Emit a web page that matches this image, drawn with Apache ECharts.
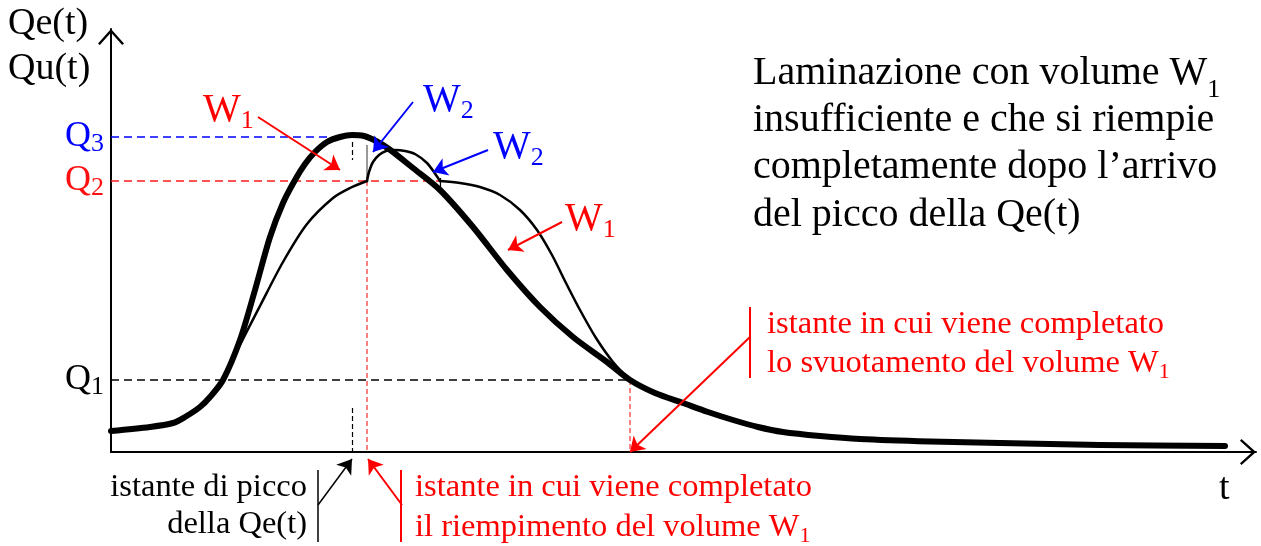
<!DOCTYPE html>
<html>
<head>
<meta charset="utf-8">
<script src="https://cdn.jsdelivr.net/npm/echarts@6/dist/echarts.min.js"></script>
<style>
  html, body { margin: 0; padding: 0; background: #fff; }
  #main { width: 1261px; height: 546px; }
</style>
</head>
<body>
<div id="main"></div>
<script>
// Qe(t): idrogramma entrante (curva spessa), punti [t, Q]
var qeData = [
  [0, 2.1], [3.9, 2.5], [6.2, 2.9], [7.4, 3.5], [8.9, 4.5], [9.9, 5.5],
  [11.2, 7.2], [12.9, 11.2], [14.4, 16.2], [15.9, 21.5], [17.2, 24.9],
  [18.4, 27.2], [19.4, 28.8], [20.4, 30.0], [21.6, 31.0], [22.9, 31.5],
  [24.1, 31.7], [25.3, 31.6], [26.5, 31.1], [27.8, 30.3], [30.2, 28.4],
  [32.9, 26.2], [36.2, 22.5], [39.6, 18.2], [42.9, 14.5], [46.2, 11.5],
  [49.6, 9.0], [51.9, 7.2], [54.4, 5.9], [57.2, 4.9], [59.7, 4.0],
  [62.2, 3.2], [64.7, 2.5], [67.2, 2.0], [70.9, 1.6], [74.9, 1.3],
  [81.9, 1.05], [88.9, 0.9], [98.9, 0.7], [111.4, 0.6]
];
// Qu(t): idrogramma uscente (curva sottile), in tre tratti
var quRise = [
  [11.2, 7.2], [12.9, 10.7], [14.9, 14.6], [17.2, 19.0], [19.6, 22.8],
  [22.2, 25.4], [23.9, 26.4], [25.6, 27.1]
];
var quBump = [
  [25.6, 27.1], [25.8, 28.0], [26.2, 29.0], [26.8, 29.7], [27.5, 30.1],
  [28.4, 30.2], [29.4, 30.1], [30.4, 29.8], [31.6, 28.9], [32.5, 27.7],
  [32.9, 27.1]
];
var quFall = [
  [32.9, 27.1], [34.9, 26.9], [36.9, 26.5], [38.9, 25.7], [40.9, 24.2],
  [42.6, 22.2], [44.1, 19.7], [45.5, 16.9], [46.9, 14.2], [48.5, 11.4],
  [50.2, 9.0], [51.9, 7.2]
];

// livelli di portata
var levelNames = ['1', '2', '3'];
var levelValues = [7.2, 27.1, 31.5];
var levelEnds = [51.9, 32.9, 23.4];
var levelColors = ['#000000', '#ff1010', '#0000ff'];

// istanti notevoli
var tPeak = 24.1;
var tFull = 25.6;
var tEmpty = 51.9;

// frecce [da, a]
var arrowsRed = [
  [[14.7, 33.5], [22.9, 28.2]],
  [[45.1, 23.0], [39.7, 20.2]],
  [[63.9, 11.5], [51.9, 0]],
  [[29.1, -5.3], [25.7, -0.7]]
];
var arrowsBlue = [
  [[30.2, 35.0], [26.2, 30.0]],
  [[37.7, 30.2], [32.2, 28.0]]
];
var arrowsBlack = [
  [[20.7, -5.3], [24.1, -0.7]]
];
var bracketsRed = [
  [[63.9, 14.5], [63.9, 7.4]],
  [[29.0, -1.8], [29.0, -9.0]]
];
var bracketsBlack = [
  [[20.7, -1.8], [20.7, -9.0]]
];

var FONT = "'Liberation Serif', 'Times New Roman', serif";

function lineSeries(list, color, width, type, arrow, z) {
  return {
    type: 'lines',
    coordinateSystem: 'cartesian2d',
    clip: false,
    silent: true,
    z: z || 3,
    symbol: arrow ? ['none', 'arrow'] : ['none', 'none'],
    symbolSize: 14,
    lineStyle: { color: color, width: width, type: type, opacity: 1 },
    data: list.map(function (c) { return { coords: c }; })
  };
}

function curve(data, width, z) {
  return {
    type: 'line', data: data, showSymbol: false, smooth: 0.3, silent: true, z: z,
    lineStyle: { color: '#000', width: width, cap: 'round', join: 'round' }
  };
}

var levelLines = levelValues.map(function (v, i) {
  return [[0, v], [levelEnds[i], v]];
});

var chevron = 'path://M13,0 L26,14.5 L24.2,16 L13,3.6 L1.8,16 L0,14.5 Z';

var myChart = echarts.init(document.getElementById('main'));

function wLabel(x, y, sub, color) {
  return {
    type: 'text', x: x, y: y, silent: true,
    style: {
      text: '{w|W}{s|' + sub + '}', fill: color, align: 'left', verticalAlign: 'middle',
      rich: {
        w: { fontFamily: FONT, fontSize: 40, lineHeight: 48, fill: color },
        s: { fontFamily: FONT, fontSize: 26, lineHeight: 26, verticalAlign: 'bottom', fill: color }
      }
    }
  };
}
function plain(x, y, text, size, color, align) {
  return {
    type: 'text', x: x, y: y, silent: true,
    style: { text: text, fontFamily: FONT, fontSize: size, fill: color, align: align || 'left', verticalAlign: 'middle' }
  };
}
function withSub(x, y, text, sub, size, subSize, lh, subLh, color) {
  return {
    type: 'text', x: x, y: y, silent: true,
    style: {
      text: '{a|' + text + '}{b|' + sub + '}', fill: color, align: 'left', verticalAlign: 'middle',
      rich: {
        a: { fontFamily: FONT, fontSize: size, lineHeight: lh, fill: color },
        b: { fontFamily: FONT, fontSize: subSize, lineHeight: subLh, verticalAlign: 'bottom', fill: color }
      }
    }
  };
}

var option = {
  animation: false,
  backgroundColor: '#ffffff',
  grid: { left: 111, right: 5, top: 29, bottom: 94 },
  xAxis: {
    type: 'value', min: 0, max: 114.5,
    axisLine: {
      show: true, onZero: true,
      symbol: ['none', chevron], symbolSize: [26, 16], symbolOffset: [0, -8],
      lineStyle: { color: '#000', width: 2 }
    },
    axisTick: { show: false }, axisLabel: { show: false }, splitLine: { show: false }
  },
  yAxis: {
    type: 'value', min: 0, max: 42.3,
    axisLine: {
      show: true,
      symbol: ['none', chevron], symbolSize: [26, 16], symbolOffset: [0, -8],
      lineStyle: { color: '#000', width: 2 }
    },
    axisTick: { show: false }, splitLine: { show: false },
    axisLabel: {
      show: true, margin: 7,
      customValues: levelValues,
      formatter: function (v) {
        var i = levelValues.indexOf(v);
        return '{q' + i + '|Q}{s' + i + '|' + levelNames[i] + '}';
      },
      rich: (function () {
        var r = {};
        levelColors.forEach(function (c, i) {
          r['q' + i] = { fontFamily: FONT, fontSize: 36, lineHeight: 40, color: c };
          r['s' + i] = { fontFamily: FONT, fontSize: 26, lineHeight: 28, verticalAlign: 'bottom', color: c };
        });
        return r;
      })()
    }
  },
  series: [
    lineSeries([levelLines[0]], '#000000', 1.5, [8, 5], false, 1),
    lineSeries([levelLines[1]], '#ff1a1a', 1.5, [8, 5], false, 1),
    lineSeries([levelLines[2]], '#0000ff', 1.5, [8, 5], false, 1),
    lineSeries([[[tFull, levelValues[1]], [tFull, 0]], [[tEmpty, levelValues[0]], [tEmpty, 0]]],
      '#ff5a5a', 1.5, [5, 3], false, 1),
    lineSeries([[[tPeak, 4.4], [tPeak, 0]], [[tPeak, 31.0], [tPeak, 29.2]]], '#000000', 1.2, [5, 3], false, 1),
    lineSeries([[[tFull, 30.7], [tFull, levelValues[1]]]], '#777777', 1.5, 'solid', false, 2),
    lineSeries([[[32.9, 27.4], [32.9, 26.4]]], '#000000', 1.2, 'solid', false, 2),
    curve(qeData, 6, 4),
    curve(quRise, 2.5, 5),
    curve(quBump, 2.5, 5),
    curve(quFall, 2.5, 5),
    lineSeries(arrowsRed, '#ff0000', 2, 'solid', true, 6),
    lineSeries(arrowsBlue, '#0000ff', 2, 'solid', true, 6),
    lineSeries(arrowsBlack, '#000000', 1.5, 'solid', true, 6),
    lineSeries(bracketsRed, '#ff0000', 2, 'solid', false, 6),
    lineSeries(bracketsBlack, '#000000', 1.5, 'solid', false, 6)
  ],
  graphic: [
    plain(8, 24, 'Qe(t)', 38, '#000'),
    plain(8, 69, 'Qu(t)', 38, '#000'),
    plain(1219, 489, 't', 38, '#000'),
    withSub(753, 73, 'Laminazione con volume W', '1', 40, 26, 60, 20, '#000'),
    plain(753, 120, 'insufficiente e che si riempie', 40, '#000'),
    plain(753, 167, 'completamente dopo l\u2019arrivo', 40, '#000'),
    plain(753, 215, 'del picco della Qe(t)', 40, '#000'),
    wLabel(203, 110, '1', '#ff0000'),
    wLabel(423, 100, '2', '#0000ff'),
    wLabel(493, 147, '2', '#0000ff'),
    wLabel(565, 219, '1', '#ff0000'),
    plain(767, 324, 'istante in cui viene completato', 32.5, '#ff0000'),
    withSub(767, 363, 'lo svuotamento del volume W', '1', 32.5, 22, 40, 22, '#ff0000'),
    plain(307, 487, 'istante di picco', 32.5, '#000', 'right'),
    plain(307, 524, 'della Qe(t)', 32.5, '#000', 'right'),
    plain(415, 487, 'istante in cui viene completato', 32.5, '#ff0000'),
    withSub(415, 527, 'il riempimento del volume W', '1', 32.5, 22, 40, 22, '#ff0000')
  ]
};

myChart.setOption(option);
</script>
</body>
</html>
